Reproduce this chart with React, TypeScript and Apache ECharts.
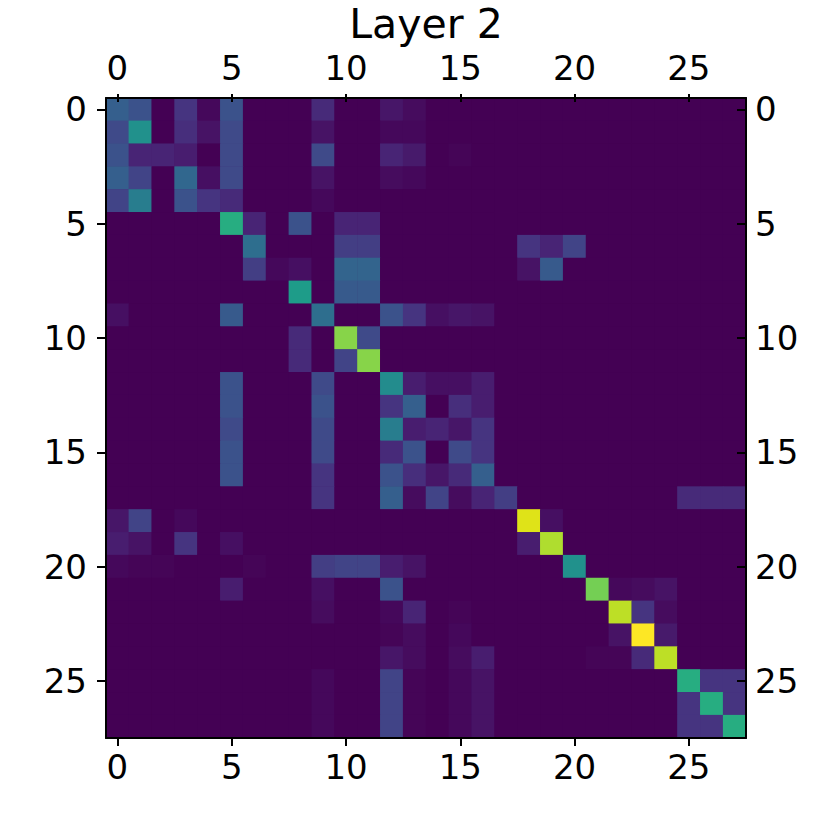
import React, { useEffect, useRef } from "react";
import * as echarts from "echarts";

const categories = [
  "0", "1", "2", "3", "4", "5", "6", "7", "8", "9", "10", "11", "12", "13",
  "14", "15", "16", "17", "18", "19", "20", "21", "22", "23", "24", "25", "26", "27",
];

const titleText = "Layer 2";

const viridis = [
  "#440154", "#471365", "#482475", "#463480", "#414487", "#3b528b", "#355f8d",
  "#2f6c8e", "#2a788e", "#25848e", "#21918c", "#1e9c89", "#22a884", "#2fb47c",
  "#44bf70", "#5ec962", "#7ad151", "#9bd93c", "#bddf26", "#dfe318", "#fde725",
];

// rows (top to bottom), each with 28 columns (left to right)
const matrix: number[][] = [
  [.30, .25, 0, .15, .02, .25, 0, 0, 0, .12, 0, 0, .06, .03, 0, 0, 0, 0, 0, 0, 0, 0, 0, 0, 0, 0, 0, 0],
  [.22, .50, 0, .13, .05, .22, 0, 0, 0, .05, 0, 0, .02, .02, 0, 0, 0, 0, 0, 0, 0, 0, 0, 0, 0, 0, 0, 0],
  [.25, .10, .10, .08, 0, .22, 0, 0, 0, .22, 0, 0, .10, .07, 0, .01, 0, 0, 0, 0, 0, 0, 0, 0, 0, 0, 0, 0],
  [.30, .20, 0, .33, .04, .22, 0, 0, 0, .05, 0, 0, .03, .02, 0, 0, 0, 0, 0, 0, 0, 0, 0, 0, 0, 0, 0, 0],
  [.20, .42, 0, .25, .15, .12, 0, 0, 0, .02, 0, 0, 0, 0, 0, 0, 0, 0, 0, 0, 0, 0, 0, 0, 0, 0, 0, 0],
  [0, 0, 0, 0, 0, .62, .10, 0, .25, 0, .10, .10, 0, 0, 0, 0, 0, 0, 0, 0, 0, 0, 0, 0, 0, 0, 0, 0],
  [0, 0, 0, 0, 0, 0, .36, 0, 0, 0, .18, .18, 0, 0, 0, 0, 0, 0, .15, .10, .20, 0, 0, 0, 0, 0, 0, 0],
  [0, 0, 0, 0, 0, 0, .18, .02, .04, 0, .32, .32, 0, 0, 0, 0, 0, 0, .05, .28, 0, 0, 0, 0, 0, 0, 0, 0],
  [0, 0, 0, 0, 0, 0, 0, 0, .55, 0, .28, .28, 0, 0, 0, 0, 0, 0, 0, 0, 0, 0, 0, 0, 0, 0, 0, 0],
  [.04, 0, 0, 0, 0, .28, 0, 0, 0, .36, 0, 0, .25, .15, .04, .06, .05, 0, 0, 0, 0, 0, 0, 0, 0, 0, 0, 0],
  [0, 0, 0, 0, 0, 0, 0, 0, .12, 0, .82, .22, 0, 0, 0, 0, 0, 0, 0, 0, 0, 0, 0, 0, 0, 0, 0, 0],
  [0, 0, 0, 0, 0, 0, 0, 0, .12, 0, .20, .82, 0, 0, 0, 0, 0, 0, 0, 0, 0, 0, 0, 0, 0, 0, 0, 0],
  [0, 0, 0, 0, 0, .25, 0, 0, 0, .22, 0, 0, .48, .08, .04, .04, .08, 0, 0, 0, 0, 0, 0, 0, 0, 0, 0, 0],
  [0, 0, 0, 0, 0, .25, 0, 0, 0, .25, 0, 0, .15, .30, 0, .13, .08, 0, 0, 0, 0, 0, 0, 0, 0, 0, 0, 0],
  [0, 0, 0, 0, 0, .22, 0, 0, 0, .22, 0, 0, .42, .08, .10, .06, .15, 0, 0, 0, 0, 0, 0, 0, 0, 0, 0, 0],
  [0, 0, 0, 0, 0, .25, 0, 0, 0, .22, 0, 0, .12, .25, 0, .22, .15, 0, 0, 0, 0, 0, 0, 0, 0, 0, 0, 0],
  [0, 0, 0, 0, 0, .25, 0, 0, 0, .15, 0, 0, .25, .13, .06, .12, .30, 0, 0, 0, 0, 0, 0, 0, 0, 0, 0, 0],
  [0, 0, 0, 0, 0, 0, 0, 0, 0, .15, 0, 0, .30, .03, .20, .03, .10, .18, 0, 0, 0, 0, 0, 0, 0, .12, .12, .12],
  [.06, .20, 0, .02, 0, 0, 0, 0, 0, 0, 0, 0, 0, 0, 0, 0, 0, 0, .95, .04, 0, 0, 0, 0, 0, 0, 0, 0],
  [.08, .05, 0, .15, 0, .04, 0, 0, 0, 0, 0, 0, 0, 0, 0, 0, 0, 0, .08, .88, 0, 0, 0, 0, 0, 0, 0, 0],
  [.02, .01, .01, 0, 0, 0, .01, 0, 0, .18, .20, .20, .08, .05, 0, 0, 0, 0, 0, 0, .50, 0, 0, 0, 0, 0, 0, 0],
  [0, 0, 0, 0, 0, .08, 0, 0, 0, .04, 0, 0, .25, 0, 0, 0, 0, 0, 0, 0, 0, .79, .02, .03, .05, 0, 0, 0],
  [0, 0, 0, 0, 0, 0, 0, 0, 0, .03, 0, 0, .02, .10, 0, .01, 0, 0, 0, 0, 0, 0, .90, .15, .03, 0, 0, 0],
  [0, 0, 0, 0, 0, 0, 0, 0, 0, 0, 0, 0, .01, .03, 0, .02, 0, 0, 0, 0, 0, 0, .05, 1.0, .07, 0, 0, 0],
  [0, 0, 0, 0, 0, 0, 0, 0, 0, 0, 0, 0, .06, .03, 0, .03, .08, 0, 0, 0, 0, .01, .01, .12, .90, 0, 0, 0],
  [0, 0, 0, 0, 0, 0, 0, 0, 0, .02, 0, 0, .20, .01, 0, .02, .05, 0, 0, 0, 0, 0, 0, 0, 0, .62, .15, .15],
  [0, 0, 0, 0, 0, 0, 0, 0, 0, .02, 0, 0, .20, .01, 0, .02, .05, 0, 0, 0, 0, 0, 0, 0, 0, .15, .62, .15],
  [0, 0, 0, 0, 0, 0, 0, 0, 0, .02, 0, 0, .20, .01, 0, .02, .05, 0, 0, 0, 0, 0, 0, 0, 0, .15, .15, .62],
];

const FONT = "DejaVu Sans";

export default function App() {
  const ref = useRef<HTMLDivElement>(null);

  useEffect(() => {
    if (!ref.current) return;
    const chart = echarts.init(ref.current, undefined, { renderer: "svg" });

    const data: [number, number, number][] = [];
    matrix.forEach((row, r) => {
      row.forEach((v, c) => {
        data.push([c, r, v]);
      });
    });

    const lineStyle = { color: "#000", width: 2 };
    const labelBase = { fontSize: 34, color: "#000", fontFamily: FONT, interval: 4 };

    const option: any = {
      animation: false,
      backgroundColor: "#fff",
      title: {
        text: titleText,
        left: 426,
        top: 3,
        padding: 0,
        textAlign: "center",
        textStyle: { fontFamily: FONT, fontSize: 41, lineHeight: 41, fontWeight: "normal", color: "#000" },
      },
      grid: {
        left: 106,
        top: 98,
        width: 640,
        height: 640,
        show: true,
        backgroundColor: "#440154",
        borderWidth: 0,
      },
      visualMap: {
        show: false,
        min: 0,
        max: 1,
        dimension: 2,
        inRange: { color: viridis },
      },
      xAxis: [
        {
          type: "category",
          data: categories,
          position: "bottom",
          z: 10,
          axisLine: { show: true, lineStyle },
          axisTick: { show: true, alignWithLabel: true, interval: 4, length: 8, lineStyle },
          axisLabel: { ...labelBase, margin: 12 },
          splitLine: { show: false },
        },
        {
          type: "category",
          data: categories,
          position: "top",
          z: 10,
          axisLine: { show: true, lineStyle },
          axisTick: { show: true, alignWithLabel: true, interval: 4, length: 4, lineStyle },
          axisLabel: { ...labelBase, margin: 13 },
          splitLine: { show: false },
        },
        {
          type: "category",
          data: categories,
          position: "top",
          z: 10,
          axisLine: { show: false },
          axisTick: { show: true, inside: true, alignWithLabel: true, interval: 4, length: 4, lineStyle },
          axisLabel: { show: false },
          splitLine: { show: false },
        },
      ],
      yAxis: [
        {
          type: "category",
          data: categories,
          inverse: true,
          position: "left",
          z: 10,
          axisLine: { show: true, lineStyle },
          axisTick: { show: true, alignWithLabel: true, interval: 4, length: 9, lineStyle },
          axisLabel: { ...labelBase, margin: 19 },
          splitLine: { show: false },
        },
        {
          type: "category",
          data: categories,
          inverse: true,
          position: "right",
          z: 10,
          axisLine: { show: true, lineStyle },
          axisTick: { show: true, inside: true, alignWithLabel: true, interval: 4, length: 9, lineStyle },
          axisLabel: { ...labelBase, margin: 9 },
          splitLine: { show: false },
        },
      ],
      series: [
        {
          type: "heatmap",
          xAxisIndex: 0,
          yAxisIndex: 0,
          data,
          itemStyle: { borderWidth: 0 },
          emphasis: { disabled: true },
        },
      ],
    };

    chart.setOption(option);
    return () => chart.dispose();
  }, []);

  return (
    <div
      ref={ref}
      style={{ position: "fixed", left: 0, top: 0, width: 830, height: 830, background: "#fff" }}
    />
  );
}
